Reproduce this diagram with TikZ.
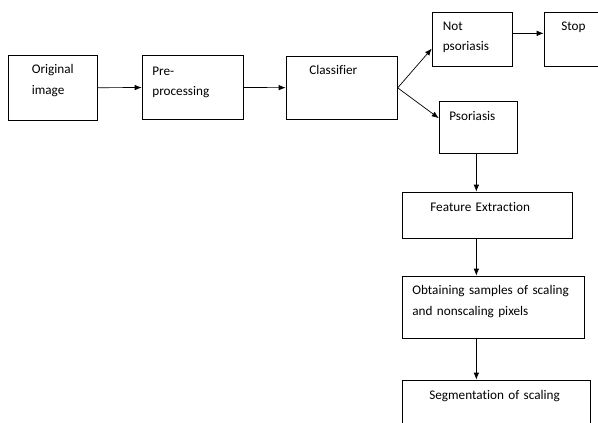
\documentclass[tikz,border=0pt]{standalone}
\usepackage{fontspec}
\setmainfont{Carlito}[Ligatures=NoCommon]
\usetikzlibrary{arrows.meta}
\tikzset{box/.style={draw,rectangle,anchor=north west,align=left,
                     inner ysep=0pt,font=\fontsize{13.2}{20.5}\selectfont}}

\begin{document}
\begin{tikzpicture}[x=1pt, y=-1pt, >={Latex[length=7pt,width=5.5pt]}, line width=0.7pt,
      % styles for clarity
      flow/.style ={->, shorten >=0.3pt}
    ]
    % page area, cuts the boxes on the right and at the bottom
    \clip (0,0) rectangle (598,423);

    % first row
    \node[box, inner xsep=23.5pt, text width=42pt, text height=18.5pt, text depth=46.5pt]
      (orig) at (8,55) {Original\\image};
    \node[box, inner xsep=10pt, text width=81pt, text height=20pt, text depth=44pt]
      (prep) at (142,55) {Pre-\\processing};
    \node[box, inner xsep=23pt, text width=65pt, text height=18pt, text depth=45pt]
      (clf) at (286,56) {Classifier};

    % the two outcomes
    \node[box, inner xsep=10.5pt, text width=59pt, text height=18pt, text depth=36pt]
      (notps) at (432,12) {Not\\psoriasis};
    \node[box, inner xsep=17pt, text width=56pt, text height=18pt, text depth=36pt]
      (stop) at (544,12) {Stop};
    \node[box, inner xsep=10pt, text width=58pt, text height=19pt, text depth=33pt]
      (ps) at (439,101) {Psoriasis};

    % column below psoriasis
    \node[box, inner xsep=28pt, text width=114pt, text height=19pt, text depth=27pt]
      (feat) at (402,192) {Feature Extraction};
    \node[box, inner xsep=10pt, text width=162pt, text height=18.5pt, text depth=43.5pt]
      (samp) at (402,276) {Obtaining samples of scaling\\and nonscaling pixels};
    \node[box, inner xsep=27pt, text width=134pt, text height=19pt, text depth=40pt]
      (seg) at (402,380) {Segmentation of scaling};

    % connectors
    \draw[flow] (orig) -- (prep);
    \draw[flow] (prep) -- (clf);
    \draw[flow] (clf.east) -- ([yshift=-9pt]notps.west);
    \draw[flow] (clf.east) -- ([yshift=9pt]ps.west);
    \draw[flow] ([yshift=6pt]notps.east) -- ([yshift=6pt]stop.west);
    \draw[flow] ([xshift=-2pt]ps.south) -- ([xshift=-2pt]ps.south |- feat.north);
    \draw[flow] ([xshift=-2pt]ps.south |- feat.south) -- ([xshift=-2pt]ps.south |- samp.north);
    \draw[flow] ([xshift=-2pt]ps.south |- samp.south) -- ([xshift=-2pt]ps.south |- seg.north);
\end{tikzpicture}
\end{document}
